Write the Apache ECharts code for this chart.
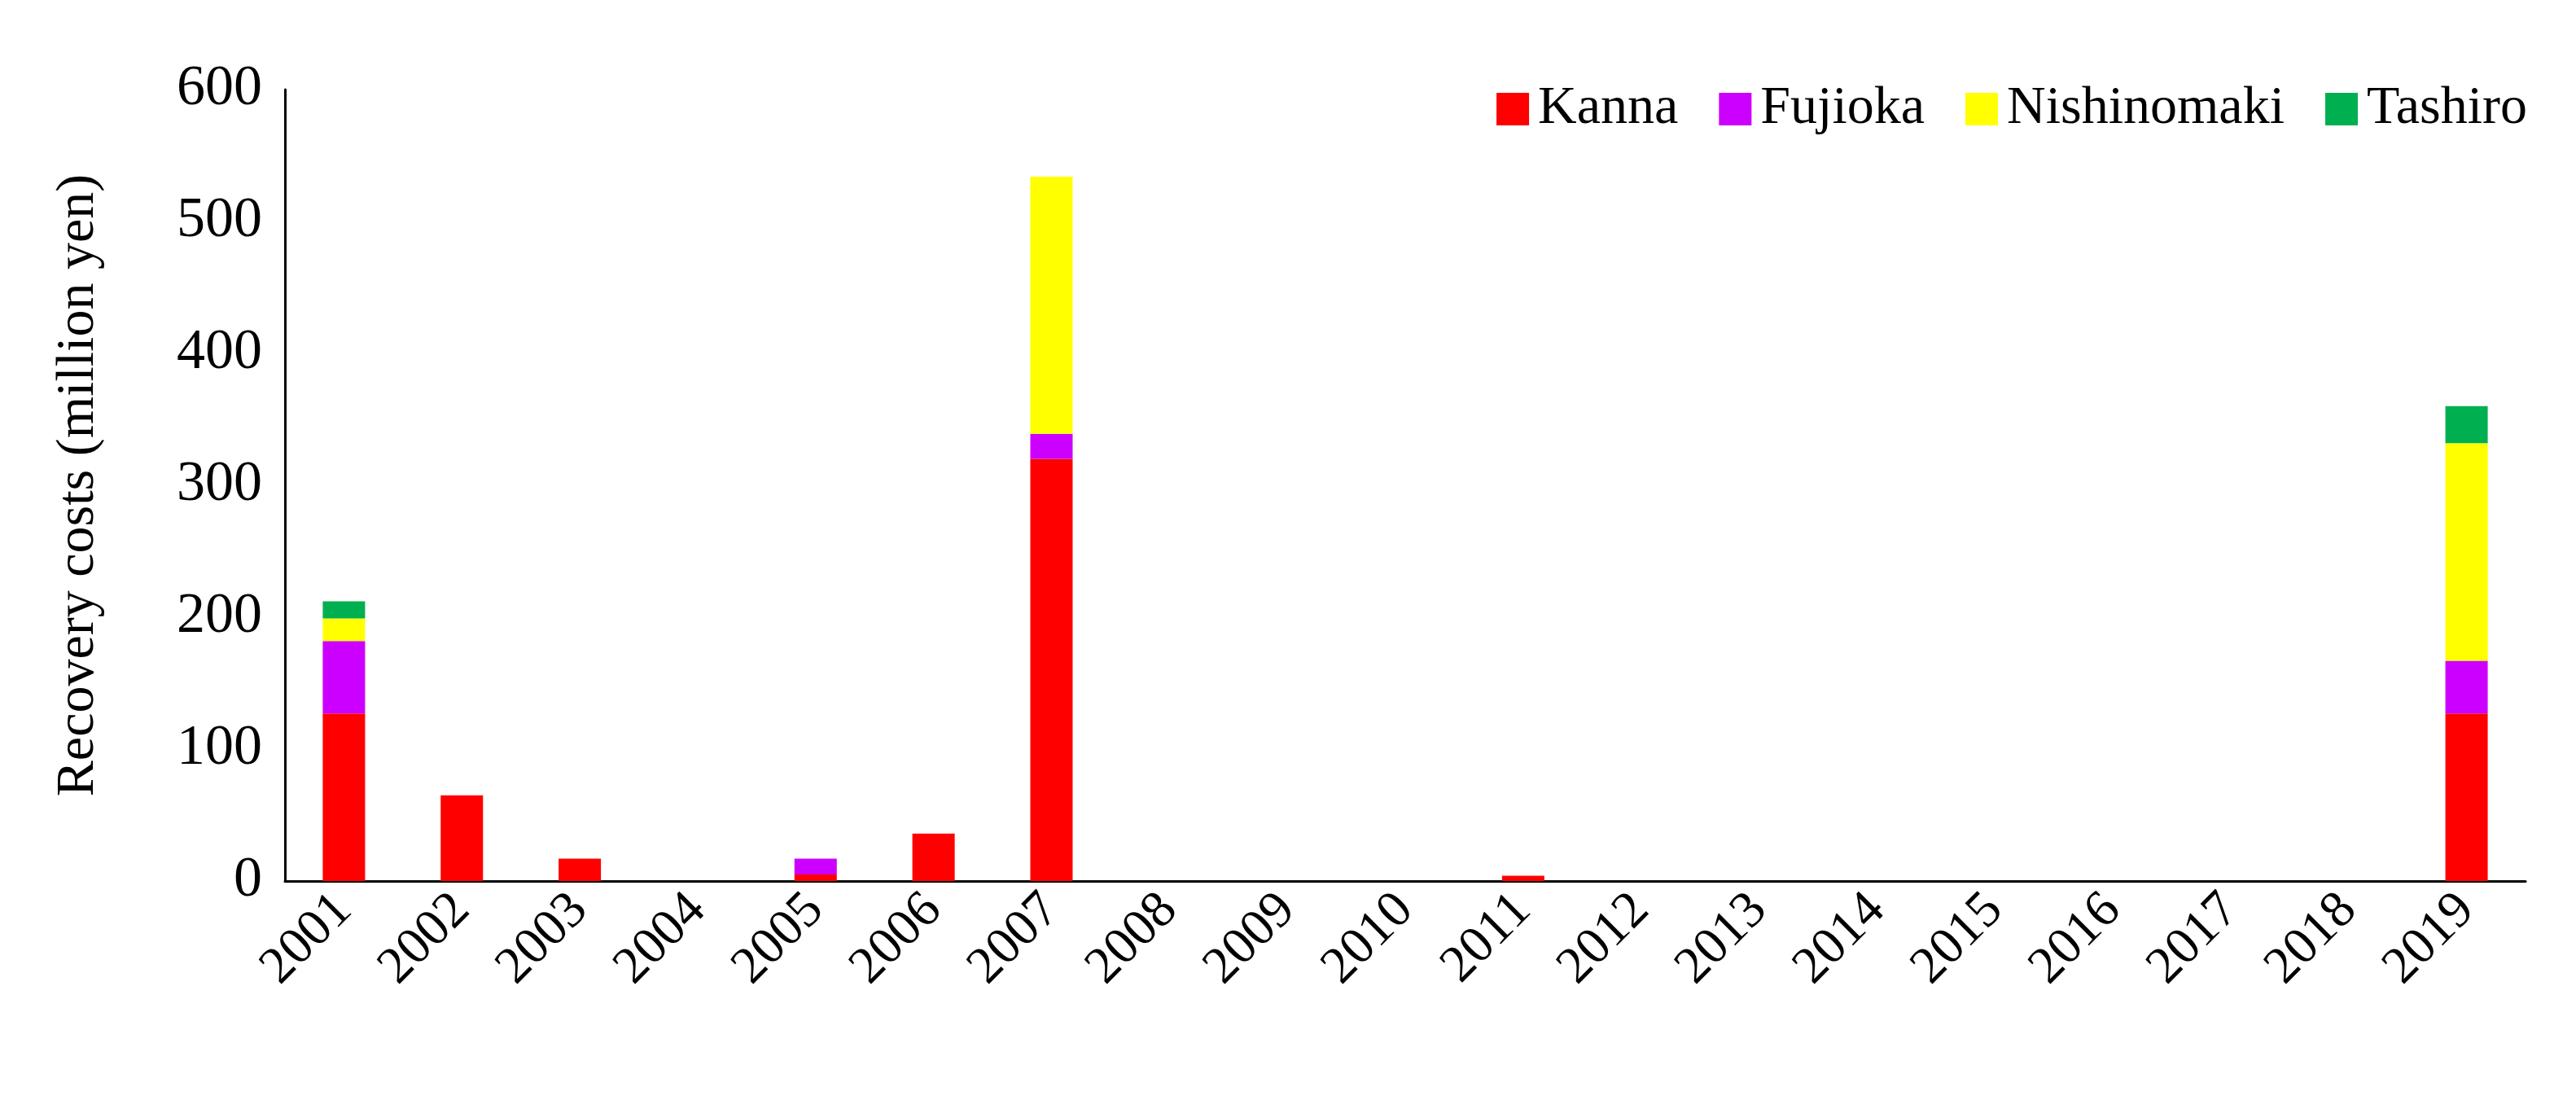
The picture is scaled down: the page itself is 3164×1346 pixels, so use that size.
<!DOCTYPE html>
<html>
<head>
<meta charset="utf-8">
<script src="https://cdn.jsdelivr.net/npm/echarts@6/dist/echarts.min.js"></script>
<style>html,body{margin:0;padding:0;background:#fff}#chart{width:3164px;height:1346px}</style>
</head>
<body>
<div id="chart"></div>
<script>
var years = ['2001','2002','2003','2004','2005','2006','2007','2008','2009','2010','2011','2012','2013','2014','2015','2016','2017','2018','2019'];
var kanna =       [127, 65, 17, 0, 5, 36, 320, 0, 0, 0, 4, 0, 0, 0, 0, 0, 0, 0, 127];
var fujioka =     [55, 0, 0, 0, 12, 0, 19, 0, 0, 0, 0, 0, 0, 0, 0, 0, 0, 0, 40];
var nishinomaki = [17, 0, 0, 0, 0, 0, 195, 0, 0, 0, 0, 0, 0, 0, 0, 0, 0, 0, 165];
var tashiro =     [13, 0, 0, 0, 0, 0, 0, 0, 0, 0, 0, 0, 0, 0, 0, 0, 0, 0, 28];
var yTicks = [0, 100, 200, 300, 400, 500, 600];

var font = 'Liberation Serif';
var chart = echarts.init(document.getElementById('chart'));

function bar(name, data, color) {
    return { name: name, type: 'bar', stack: 'total', data: data, barWidth: 52,
        itemStyle: { color: color }, emphasis: { disabled: true } };
}

chart.setOption({
    backgroundColor: '#fff',
    textStyle: { fontFamily: font, color: '#000' },
    grid: { left: 350, right: 62, top: 110, bottom: 264 },
    legend: {
        right: 55, top: 96, itemWidth: 40, itemHeight: 40, itemGap: 50, icon: 'rect',
        textStyle: { fontFamily: font, fontSize: 66, color: '#000', padding: [0, 0, 0, 6] }
    },
    xAxis: {
        type: 'category', data: years,
        axisLine: { lineStyle: { color: '#000', width: 3 } },
        axisTick: { show: false },
        axisLabel: { rotate: 45, fontSize: 64, color: '#000', fontFamily: font, margin: 26 }
    },
    yAxis: {
        type: 'value', min: yTicks[0], max: yTicks[yTicks.length - 1], interval: 100,
        name: 'Recovery costs (million yen)', nameLocation: 'middle', nameGap: 220,
        nameTextStyle: { fontSize: 66, fontFamily: font, color: '#000' },
        axisLine: { show: true, lineStyle: { color: '#000', width: 3 } },
        axisTick: { show: false },
        splitLine: { show: false },
        axisLabel: { fontSize: 70, color: '#000', fontFamily: font, margin: 28 }
    },
    series: [
        bar('Kanna', kanna, '#ff0000'),
        bar('Fujioka', fujioka, '#cc00ff'),
        bar('Nishinomaki', nishinomaki, '#ffff00'),
        bar('Tashiro', tashiro, '#00b050')
    ]
});
</script>
</body>
</html>
